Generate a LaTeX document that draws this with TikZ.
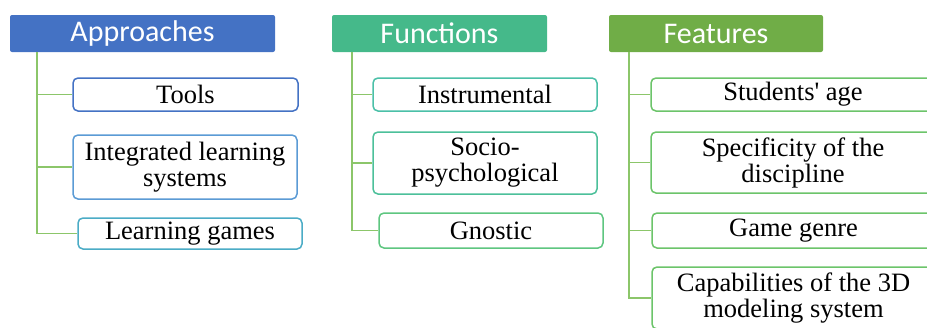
\documentclass[tikz,border=0pt]{standalone}
\usepackage{fontspec}
\setmainfont[Ligatures=TeXOff]{Liberation Serif}
\newfontfamily\hdfont{Carlito}
\usetikzlibrary{calc}
\definecolor{cA}{HTML}{4472C4}
\definecolor{cF}{HTML}{45B98A}
\definecolor{cE}{HTML}{70AD47}
\definecolor{lnc}{HTML}{8CC66A}
\definecolor{b1}{HTML}{4472C4}
\definecolor{b2}{HTML}{5B9BD5}
\definecolor{b3}{HTML}{4BACC6}
\definecolor{b4}{HTML}{4BC0A8}
\definecolor{b5}{HTML}{4CC09A}
\definecolor{b6}{HTML}{5EC680}
\definecolor{b7}{HTML}{6CC46A}
\tikzset{
  hdr/.style={fill=#1, draw=none, rounded corners=2pt, text=white, font=\hdfont\fontsize{30}{30}\selectfont, inner sep=0pt, minimum height=37pt},
  child/.style={draw=#1, line width=1.5pt, rounded corners=5pt, fill=white, align=center, font=\fontsize{26.5}{26}\selectfont, inner sep=0pt, text=black},
  conn/.style={draw=lnc, line width=1.8pt}
}
\begin{document}
\begin{tikzpicture}[x=1pt,y=-1pt]
\useasboundingbox (0,0) rectangle (927,327);
\clip (0,0) rectangle (927,327);
% headers
\node[hdr=cA, minimum width=265pt] (hA) at (142.5,33.5) {Approaches};
\node[hdr=cF, minimum width=215pt] (hF) at (439.5,33.5) {Functions};
\node[hdr=cE, minimum width=214pt] (hE) at (716,33.5) {Features};
% trunks
\coordinate (tA) at ($(hA.south west)+(27,0)$);
\coordinate (tF) at ($(hF.south west)+(20,0)$);
\coordinate (tE) at ($(hE.south west)+(20,0)$);
% children
\node[child=b1, minimum width=225pt, minimum height=33pt] (a1) at (185.5,94.5) {Tools};
\node[child=b2, minimum width=224pt, minimum height=64pt] (a2) at (185,167) {Integrated learning\\systems};
\node[child=b3, minimum width=224pt, minimum height=31pt] (a3) at (190,233.5) {Learning games};
\node[child=b4, minimum width=224pt, minimum height=33pt] (f1) at (485,94.5) {Instrumental};
\node[child=b5, minimum width=224pt, minimum height=62pt] (f2) at (485,163) {Socio-\\psychological};
\node[child=b6, minimum width=224pt, minimum height=35pt] (f3) at (491,230.5) {Gnostic};
\node[child=b7, minimum width=284pt, minimum height=33pt] (e1) at (793,94.5) {Students' age};
\node[child=b7, minimum width=284pt, minimum height=61pt] (e2) at (793,162.5) {Specificity of the\\discipline};
\node[child=b7, minimum width=283pt, minimum height=35pt] (e3) at (793.5,230.5) {Game genre};
\node[child=b7, minimum width=283pt, minimum height=62pt] (e4) at (793.5,298) {Capabilities of the 3D\\modeling system};
% connectors
\draw[conn] (tA) |- (a3.west);
\draw[conn] (tA |- a1.west) -- (a1.west);
\draw[conn] (tA |- a2.west) -- (a2.west);
\draw[conn] (tF) |- (f3.west);
\draw[conn] (tF |- f1.west) -- (f1.west);
\draw[conn] (tF |- f2.west) -- (f2.west);
\draw[conn] (tE) |- (e4.west);
\draw[conn] (tE |- e1.west) -- (e1.west);
\draw[conn] (tE |- e2.west) -- (e2.west);
\draw[conn] (tE |- e3.west) -- (e3.west);
\end{tikzpicture}
\end{document}
